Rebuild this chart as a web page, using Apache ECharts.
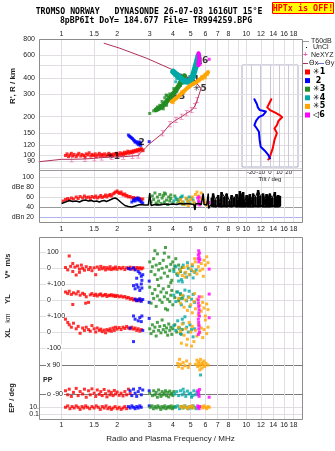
<!DOCTYPE html>
<html>
<head>
<meta charset="utf-8">
<title>Dynasonde ionogram</title>
<script src="https://cdn.jsdelivr.net/npm/echarts@6/dist/echarts.min.js"></script>
<style>html,body{margin:0;padding:0;background:#fff}#chart{width:335px;height:451px}</style>
</head>
<body>
<div id="chart"></div>
<script>
var L = Math.log10;

// ticks
var freqTicks = [1, 1.5, 2, 3, 4, 5, 6, 7, 8, 9, 10, 12, 14, 16, 18];
var freqLabels = [1, 1.5, 2, 3, 4, 5, 6, 7, 8, 10, 12, 14, 16, 18];
var freqLabelsMid = [1, 1.5, 2, 3, 4, 5, 6, 7, 8, 9, 10, 12, 14, 16, 18];
var heightTicks = [80, 90, 100, 120, 150, 200, 300, 400, 500, 600, 800];
var heightLabels = [80, 90, 100, 120, 150, 200, 300, 400, 600, 800];
var ampTicks = [20, 40, 60, 80, 100];
var ampLabels = {20: 'dBn 20', 40: '40', 60: '60', 80: 'dBe 80', 100: '100'};
var tiltTicks = [-20, -10, 0, 10, 20];

// true height profile (MHz, km)
var profBottom = [[0.755,89.5],[1.0,93.4],[1.135,93.4],[1.34,94],[1.505,95.1],[1.649,96.3],[1.867,97.4],[2.16,97.9],[2.42,99.1],[2.6,99.8],[2.66,104],[2.85,115],[3.01,124],[3.52,148.6],[3.86,174.5],[4.16,188.4],[4.46,200],[4.75,212.4],[5.06,225],[5.27,242],[5.42,269],[5.61,312],[5.68,332]];
var profTop = [[5.68,332],[5.3,370],[4.9,400],[4.28,434],[4.02,460],[2.89,567],[2.07,678],[1.70,741]];
var neMarks = [[1.135,93.4],[1.34,94],[1.505,95.1],[1.649,96.3],[1.867,97.4],[2.16,97.9],[2.42,99.1],[2.6,99.8],[3.52,148.6],[3.86,174.5],[4.16,188.4],[4.46,200],[4.75,212.4],[5.06,225],[5.27,242],[5.42,269]];

// virtual heights (MHz, km)
var redH = [[1.05,100],[1.07,103],[1.09,98],[1.11,101],[1.13,104],[1.15,99],[1.17,102],[1.2,98],[1.22,101],[1.24,104],[1.27,99],[1.29,102],[1.32,100],[1.34,97],[1.36,103],[1.39,101],[1.41,105],[1.44,99],[1.46,102],[1.49,100],[1.52,103],[1.54,98],[1.57,101],[1.6,104],[1.62,99],[1.65,102],[1.68,100],[1.71,103],[1.74,99],[1.77,101],[1.8,104],[1.83,100],[1.86,102],[1.89,99],[1.92,103],[1.95,101],[1.98,104],[2.01,100],[2.04,102],[2.07,105],[2.1,101],[2.13,104],[2.16,102],[2.19,106],[2.22,103],[2.25,105],[2.28,108],[2.31,104],[2.34,107],[2.37,105],[2.4,108],[2.43,106],[2.46,109],[2.49,107],[2.52,110],[2.55,108],[2.58,111],[2.61,109],[2.64,112],[2.67,110],[2.7,113],[2.73,111],[2.76,109]];
var blueH = [[2.3,144],[2.33,141],[2.36,139],[2.39,137],[2.42,135],[2.45,132],[2.48,130],[2.5,127],[2.53,128],[2.56,125],[2.59,123],[2.62,121],[2.65,124],[2.68,120],[2.6,127],[2.66,127],[2.98,128]];
var greenRidge = [[3.25,226],[3.45,236],[3.6,250],[3.75,268],[3.9,286],[4.1,312],[4.3,345],[4.5,385],[4.62,415]];
var greenH = [[3.0,212],[3.3,238],[3.5,262],[3.62,280],[3.72,292],[3.85,300],[3.55,230],[3.7,245],[4.0,290],[4.2,315],[4.4,350],[4.55,372],[3.4,245],[3.95,275],[3.15,222],[3.68,294],[4.05,330],[4.35,370]];
var tealRidge = [[4.02,446],[4.3,410],[4.6,378],[4.9,372],[5.1,400],[5.25,460],[5.4,530],[5.5,590]];
var tealH = [[4.1,420],[4.2,395],[4.4,385],[4.5,362],[4.7,365],[4.8,395],[5.0,385],[5.15,430],[5.3,490],[5.45,560],[4.25,430],[4.6,400],[4.4,420],[4.75,380],[4.95,410],[5.2,440],[4.15,373],[4.55,405]];
var orangeRidge = [[3.94,262],[4.2,280],[4.5,305],[4.75,330],[5.0,350],[5.3,368],[5.6,390],[5.9,412],[6.2,440]];
var orangeH = [[4.02,257],[4.35,295],[4.6,318],[4.9,345],[5.16,373],[5.49,385],[5.73,408],[5.97,421],[6.09,434],[6.22,446],[6.0,400],[5.8,392],[5.4,365],[4.46,312],[5.55,378],[6.15,425]];
var magentaRidge = [[5.5,500],[5.55,560],[5.52,620]];
var magentaH = [[5.49,620],[5.57,600],[5.5,580],[5.6,540],[5.53,505],[5.62,510],[6.29,557]];
var markPts = [[1.90,97.4,'✳1'],[2.71,125.7,'2'],[4.28,285.7,'✳3'],[5.09,390,'✳4'],[5.61,332,'✳5'],[5.73,540,'◁6']];

// tilt profiles (deg, km)
var tiltX = [[1.4,273],[-3,236],[-4.4,228],[0,225],[5.6,215],[10.3,206],[13,198],[9.2,186],[7.4,172],[4.8,162],[7.4,149],[4.8,132],[3,114],[1.1,104],[-0.8,95],[-1.9,93]];
var tiltY = [[-16.7,273],[-14.1,251],[-13,236],[-11.1,225],[-4.4,219],[-7.4,206],[-11.9,198],[-14.8,186],[-16.7,172],[-14.1,162],[-11.9,153],[-11.1,132],[-10,117],[-5.6,109],[-1.9,101],[0,95]];

// amplitudes (MHz, dB)
var blackAmp = [[1.0,47],[1.05,50],[1.1,53],[1.15,51],[1.2,52],[1.25,50],[1.3,53],[1.35,54],[1.4,52],[1.45,53],[1.5,51],[1.55,52],[1.6,50],[1.65,52],[1.7,53],[1.75,51],[1.8,53],[1.85,55],[1.9,57],[1.95,58],[2.0,56],[2.05,53],[2.1,49],[2.15,46],[2.2,43],[2.3,41],[2.4,40],[2.5,42],[2.6,44],[2.7,45],[2.8,44],[2.95,44],[3.0,68],[3.05,43],[3.2,45],[3.4,44],[3.6,46],[3.8,45],[4.0,46],[4.2,45],[4.4,47],[4.6,46],[4.8,47],[5.0,46],[5.2,45],[5.27,34],[5.32,46],[5.5,47],[5.7,45],[5.84,67],[5.9,45],[6.1,44],[6.22,67],[6.25,37],[6.4,44],[6.5,42]];
var noiseF = [6.5,6.61,6.8,7.04,7.2,7.34,7.6,7.82,8.1,8.32,8.6,8.85,9.05,9.22,9.4,9.61,9.8,10.03,10.2,10.44,10.65,10.88,11.2,11.58,11.9,12.32,12.6,12.86,13.1,13.4,13.8,14.26,14.5,14.85,15.18];
var noiseLo = [42,42,41,42,43,41,42,41,42,41,43,41,42,41,42,41,42,41,42,41,43,41,42,41,42,41,43,41,42,41,42,41,42,41,42];
var noiseHi = [58,67,55,64,48,70,60,67,52,64,58,66,55,72,65,70,50,64,58,66,55,67,60,74,62,67,56,66,60,67,58,70,60,64,62];
var redAmp = [[1.02,52],[1.05,55],[1.08,57],[1.1,54],[1.13,58],[1.16,56],[1.2,60],[1.23,57],[1.26,61],[1.3,58],[1.33,62],[1.36,59],[1.4,60],[1.43,57],[1.46,61],[1.5,59],[1.53,62],[1.56,58],[1.6,60],[1.63,63],[1.66,59],[1.7,61],[1.73,64],[1.76,60],[1.8,63],[1.83,65],[1.86,62],[1.9,66],[1.93,68],[1.96,70],[2.0,72],[2.03,69],[2.06,67],[2.1,70],[2.13,66],[2.16,64],[2.2,66],[2.23,62],[2.26,63],[2.3,60],[2.35,61],[2.4,58],[2.45,59],[2.5,57],[2.55,58],[2.6,56],[2.65,57],[2.7,55],[2.75,56]];
var blueAmp = [[2.4,50],[2.45,53],[2.48,56],[2.5,52],[2.55,57],[2.58,54],[2.6,58],[2.63,55],[2.66,52],[2.7,50],[2.75,48]];
var greenAmp = [[3.05,50],[3.1,62],[3.15,55],[3.2,68],[3.25,48],[3.3,60],[3.35,52],[3.4,65],[3.45,47],[3.5,58],[3.55,63],[3.6,50],[3.65,66],[3.7,54],[3.75,45],[3.8,60],[3.85,52],[3.9,57],[4.0,48],[4.1,62],[4.2,55],[4.3,50],[4.4,58],[4.5,46],[3.3,45],[3.6,68],[3.9,64]];
var tealAmp = [[4.05,52],[4.15,58],[4.25,48],[4.35,55],[4.45,60],[4.55,50],[4.65,46],[4.75,56],[4.85,52],[4.95,48],[5.05,58],[5.15,54],[5.25,47],[4.5,62],[4.9,60]];
var orangeAmp = [[4.3,48],[4.4,55],[4.5,50],[4.6,45],[4.7,58],[4.8,52],[4.9,47],[5.0,55],[5.1,60],[5.2,50],[5.3,65],[5.4,70],[5.5,62],[5.6,56],[5.7,68],[5.8,60],[5.9,54],[6.0,48],[6.1,44],[4.85,43],[5.25,45]];
var magentaAmp = [[5.45,58],[5.5,52],[5.52,46],[5.55,60],[5.58,50],[5.6,44],[6.29,49]];

// V* (m/s)
var redV = [[1.05,5],[1.08,-10],[1.1,77],[1.12,12],[1.15,-20],[1.18,8],[1.2,-42],[1.22,15],[1.25,-5],[1.28,20],[1.3,0],[1.33,-12],[1.36,10],[1.4,-8],[1.43,5],[1.46,-15],[1.5,3],[1.53,-40],[1.56,8],[1.6,-6],[1.63,12],[1.66,-3],[1.7,6],[1.73,-10],[1.76,4],[1.8,-5],[1.83,10],[1.86,-8],[1.9,2],[1.93,-4],[1.96,8],[2.0,-6],[2.05,5],[2.1,-3],[2.15,6],[2.2,-8],[2.25,4],[2.3,-2],[2.35,7],[2.4,-5],[2.45,3],[2.5,-6],[2.55,5],[2.6,-2],[2.65,4],[2.7,-4],[2.75,2],[1.15,30],[1.25,-25]];
var blueV = [[2.3,0],[2.35,-5],[2.45,3],[2.5,-10],[2.55,-62],[2.6,-20],[2.65,-31],[2.7,-50],[2.72,-75],[2.75,-40],[2.98,-80]];
var greenV = [[3.0,40],[3.05,-20],[3.1,10],[3.15,60],[3.2,-40],[3.25,20],[3.3,90],[3.35,-10],[3.4,30],[3.45,-60],[3.5,0],[3.55,50],[3.6,-30],[3.65,130],[3.7,10],[3.75,-50],[3.8,70],[3.85,-15],[3.9,25],[3.95,-75],[4.0,40],[4.05,-5],[4.1,15],[4.2,-35],[4.3,20],[4.4,-20],[4.5,5],[3.3,-70],[3.6,95],[3.9,-90],[3.2,110],[4.15,60]];
var tealV = [[4.05,-20],[4.15,10],[4.25,-45],[4.35,-5],[4.45,-70],[4.55,20],[4.65,-30],[4.75,-55],[4.85,0],[4.95,-40],[5.05,-15],[5.15,-60],[5.25,-25],[5.35,-10],[4.5,-85],[4.8,35],[5.1,15],[4.3,-80]];
var orangeV = [[4.3,-30],[4.4,-10],[4.5,-45],[4.6,5],[4.7,-25],[4.8,15],[4.9,-40],[5.0,-5],[5.1,25],[5.2,-20],[5.3,40],[5.4,-35],[5.5,10],[5.6,-15],[5.7,30],[5.8,-5],[5.9,50],[6.0,20],[6.1,72],[6.2,35],[5.85,-50],[5.25,60],[4.65,-55]];
var magentaV = [[5.48,60],[5.5,85],[5.52,110],[5.55,70],[5.57,95],[5.6,55],[5.53,40],[6.29,-5]];

// YL (km)
var redYL = [[1.05,50],[1.08,40],[1.1,55],[1.13,35],[1.16,45],[1.2,38],[1.23,52],[1.26,30],[1.3,42],[1.33,35],[1.36,20],[1.4,-15],[1.43,32],[1.46,40],[1.5,28],[1.53,36],[1.56,25],[1.6,33],[1.63,38],[1.66,26],[1.7,30],[1.73,35],[1.76,22],[1.8,30],[1.83,27],[1.86,33],[1.9,25],[1.93,30],[1.96,22],[2.0,28],[2.05,20],[2.1,25],[2.15,18],[2.2,22],[2.25,12],[2.3,16],[2.35,5],[2.4,10],[2.45,0],[2.5,5],[2.55,-3],[2.6,2],[2.65,-5],[2.7,0],[1.35,-20],[1.15,-28]];
var blueYL = [[2.4,110],[2.45,90],[2.5,70],[2.55,95],[2.6,80],[2.65,60],[2.7,100],[2.72,75],[2.5,5],[2.55,-5],[2.6,0],[2.65,8],[2.7,-8],[2.75,3],[2.98,-15]];
var greenYL = [[3.0,80],[3.05,-20],[3.1,40],[3.15,10],[3.2,65],[3.25,-40],[3.3,25],[3.35,90],[3.4,0],[3.45,50],[3.5,-15],[3.55,70],[3.6,20],[3.65,-55],[3.7,45],[3.75,5],[3.8,85],[3.85,-10],[3.9,30],[3.95,60],[4.0,-30],[4.1,15],[4.2,50],[4.3,-5],[4.4,35],[4.5,10],[3.45,105],[3.75,-62]];
var tealYL = [[4.05,30],[4.15,-10],[4.25,50],[4.35,10],[4.45,-30],[4.55,25],[4.65,62],[4.75,-5],[4.85,20],[4.95,-40],[5.05,5],[5.15,35],[5.25,-15],[4.4,40],[4.9,55]];
var orangeYL = [[4.3,10],[4.4,-20],[4.5,30],[4.6,-45],[4.7,0],[4.8,-65],[4.9,15],[5.0,-30],[5.1,-80],[5.2,-10],[5.3,-55],[5.4,5],[5.5,-95],[5.6,-35],[5.7,-70],[5.8,-15],[5.9,-50],[6.0,-100],[6.1,-25],[6.2,-60],[5.75,20],[5.25,40]];
var magentaYL = [[5.5,-20],[5.52,-40],[5.55,-60],[5.53,-80],[5.57,-100],[5.5,0],[5.55,20],[6.29,37]];

// XL (km)
var redXL = [[1.05,80],[1.08,60],[1.1,45],[1.13,30],[1.16,55],[1.2,20],[1.23,35],[1.26,-8],[1.3,25],[1.33,10],[1.36,30],[1.4,15],[1.43,5],[1.46,40],[1.5,20],[1.53,0],[1.56,25],[1.6,10],[1.63,18],[1.66,2],[1.7,12],[1.73,-5],[1.76,15],[1.8,8],[1.83,20],[1.86,5],[1.9,25],[1.93,10],[1.96,30],[2.0,18],[2.05,28],[2.1,15],[2.15,30],[2.2,22],[2.25,35],[2.3,25],[2.35,20],[2.4,30],[2.45,18],[2.5,25],[2.55,10],[2.6,20],[2.65,5],[2.7,15]];
var blueXL = [[2.4,120],[2.45,100],[2.5,80],[2.55,110],[2.6,70],[2.65,90],[2.7,65],[2.72,100],[2.35,25],[2.45,-60],[2.75,10],[2.98,85]];
var greenXL = [[3.0,20],[3.05,-10],[3.1,45],[3.15,5],[3.2,30],[3.25,-25],[3.3,60],[3.35,10],[3.4,35],[3.45,-5],[3.5,75],[3.55,15],[3.6,40],[3.65,0],[3.7,25],[3.75,-20],[3.8,50],[3.85,10],[3.9,30],[3.95,-15],[4.0,20],[4.1,45],[4.2,0],[4.3,25],[4.4,-10],[4.5,15]];
var tealXL = [[4.05,40],[4.15,10],[4.25,70],[4.35,25],[4.45,-15],[4.55,55],[4.65,95],[4.75,30],[4.85,0],[4.95,45],[5.05,15],[5.15,-30],[5.25,20],[4.5,80]];
var orangeXL = [[4.3,30],[4.4,5],[4.5,50],[4.6,-20],[4.7,20],[4.8,-45],[4.9,60],[5.0,0],[5.1,35],[5.2,-60],[5.3,10],[5.4,-25],[5.5,45],[5.6,-5],[5.7,25],[5.8,-35],[5.9,15],[6.0,75],[6.1,-10],[6.2,30],[4.75,-81],[5.05,-88],[4.45,-70]];
var magentaXL = [[5.5,80],[5.52,60],[5.55,40],[5.53,20],[5.57,0],[5.5,-15],[6.29,89]];

// PP (deg)
var redPP = [[1.05,-70],[1.08,-95],[1.1,-60],[1.13,-105],[1.16,-80],[1.2,-55],[1.23,-100],[1.26,-75],[1.3,-90],[1.33,-60],[1.36,-110],[1.4,-70],[1.43,-95],[1.46,-58],[1.5,-85],[1.53,-105],[1.56,-65],[1.6,-92],[1.63,-75],[1.66,-100],[1.7,-62],[1.73,-88],[1.76,-108],[1.8,-72],[1.83,-95],[1.86,-80],[1.9,-100],[1.93,-68],[1.96,-90],[2.0,-78],[2.05,-98],[2.1,-85],[2.15,-102],[2.2,-75],[2.25,-95],[2.3,-60],[2.35,-88]];
var bluePP = [[2.35,-70],[2.4,-100],[2.45,-60],[2.5,-85],[2.55,-105],[2.6,-75],[2.65,-55],[2.7,-95],[2.75,-65],[2.98,-70]];
var greenPP = [[3.0,-85],[3.1,-100],[3.15,-70],[3.2,-95],[3.25,-80],[3.3,-110],[3.35,-65],[3.4,-90],[3.45,-105],[3.5,-75],[3.55,-95],[3.6,-85],[3.65,-70],[3.7,-100],[3.75,-80],[3.8,-108],[3.85,-72],[3.9,-92],[3.95,-85],[4.0,-100],[4.05,-75]];
var tealPP = [[4.1,-90],[4.2,-75],[4.3,-100],[4.4,-70],[4.5,-95],[4.6,-80],[4.7,-105],[4.8,-72],[4.9,-90],[5.0,-85],[5.1,-100],[5.2,-70],[5.3,-95],[5.4,-80],[4.55,-60],[5.05,-110],[5.65,28]];
var orangePP = [[4.25,100],[4.3,80],[4.35,125],[4.4,95],[4.5,70],[4.55,105],[4.65,85],[4.75,115],[4.85,75],[4.95,95],[5.3,95],[5.4,120],[5.45,80],[5.5,100],[5.55,110],[5.6,85],[5.65,125],[5.7,95],[5.75,70],[5.8,105],[5.85,90],[5.9,115],[5.95,80],[6.05,100],[6.2,90],[5.6,60]];
var magentaPP = [[5.45,-70],[5.5,-95],[5.52,-80],[5.55,-105],[5.58,-62],[6.29,-110]];

// EP (deg)
var redEP = [[1.05,10],[1.08,12],[1.11,8],[1.14,11],[1.17,9],[1.2,12],[1.23,10],[1.26,7],[1.29,11],[1.32,9],[1.35,12],[1.38,10],[1.42,8],[1.46,11],[1.5,9],[1.54,12],[1.58,10],[1.62,7],[1.66,11],[1.7,9],[1.74,12],[1.78,8],[1.82,10],[1.86,7],[1.9,9],[1.95,11],[2.0,8],[2.05,10],[2.1,7],[2.15,9],[2.2,11],[2.25,8]];
var blueEP = [[2.3,11],[2.35,9],[2.4,12],[2.45,10],[2.5,8],[2.55,11],[2.6,9],[2.65,12],[2.7,10],[2.98,12]];
var greenEP = [[3.02,10],[3.08,12],[3.14,8],[3.2,11],[3.26,9],[3.32,12],[3.38,10],[3.44,7],[3.5,11],[3.56,9],[3.62,12],[3.68,8],[3.74,10],[3.8,11],[3.86,9],[3.92,12],[3.98,8],[4.04,10],[4.1,11]];
var tealEP = [[4.15,10],[4.25,12],[4.35,8],[4.45,11],[4.55,9],[4.65,12],[4.75,10],[4.85,8],[4.95,11],[5.05,9],[5.15,12],[5.25,10],[5.35,8]];
var orangeEP = [[4.4,11],[4.5,9],[4.6,12],[4.7,10],[4.8,8],[4.9,11],[5.0,10],[5.1,12],[5.2,9],[5.7,11],[5.8,9],[5.9,12],[6.0,10],[6.1,8],[6.2,11],[6.3,10]];
var magentaEP = [[5.45,12],[5.5,10],[5.55,8],[5.58,11]];

var RED = '#ff0000', BLUE = '#0000ff', GREEN = '#228b22', TEAL = '#00a8a8', ORANGE = '#ffa500', MAGENTA = '#ff00ff';
var PROF = '#b0305a', GRID = '#e2dde2';

var chart = echarts.init(document.getElementById('chart'));

function fLab(v) { return String(Math.round(Math.pow(10, v) * 10) / 10); }
function logF(arr) { return arr.map(function(p) { return [L(p[0]), p[1]]; }); }
function logFH(arr) { return arr.map(function(p) { return [L(p[0]), L(p[1])]; }); }
function logH(arr) { return arr.map(function(p) { return [p[0], L(p[1])]; }); }

function dots(gi, color, data, size, noClip) {
	return {
		type: 'scatter', xAxisIndex: gi, yAxisIndex: gi, data: data,
		symbol: 'rect', symbolSize: size || 3, itemStyle: {color: color},
		clip: !noClip, silent: true
	};
}
function ridge(gi, color, data, w) {
	return {
		type: 'line', xAxisIndex: gi, yAxisIndex: gi, data: data, symbol: 'none',
		lineStyle: {color: color, width: w, join: 'round', cap: 'round'}, silent: true
	};
}

var labStyle = {fontSize: 7, color: '#222', fontFamily: 'Liberation Sans'};

function freqAxis(gi, labels, extra) {
	var a = {
		type: 'value', gridIndex: gi, min: L(0.755), max: L(20),
		axisLine: {show: false},
		axisTick: {show: false, customValues: freqTicks.map(L)},
		splitLine: {show: true, lineStyle: {color: GRID, width: 1}},
		axisLabel: {show: false}
	};
	if (labels) {
		a.axisLabel = Object.assign({show: true, margin: 3, customValues: labels.map(L), formatter: fLab}, labStyle);
	}
	return Object.assign(a, extra || {});
}

function mapLabel(map) {
	return function(v) { return map[v] !== undefined ? map[v] : ''; };
}
function rowAxis(gi, min, max, ticks, map, inside, lineColor) {
	return {
		type: 'value', gridIndex: gi, min: min, max: max,
		axisLine: {show: false},
		axisTick: {show: false, customValues: ticks},
		splitLine: {show: true, lineStyle: {color: lineColor || GRID}},
		axisLabel: Object.assign({
			show: true, customValues: ticks, formatter: mapLabel(map),
			inside: !!inside, margin: inside ? 7 : 4,
			backgroundColor: inside ? '#fff' : 'transparent', padding: inside ? [0, 1] : 0
		}, labStyle)
	};
}

var grids = [
	{left: 39, top: 39, width: 263, height: 131},
	{left: 39, top: 170, width: 263, height: 52},
	{left: 242, top: 65, width: 56, height: 102, show: true, borderColor: '#a9a9c6', borderWidth: 1},
	{left: 39, top: 237, width: 263, height: 47},
	{left: 39, top: 284, width: 263, height: 32},
	{left: 39, top: 316, width: 263, height: 49},
	{left: 39, top: 365, width: 263, height: 29},
	{left: 39, top: 394, width: 263, height: 25.3}
];
grids.forEach(function(g) { g.outerBoundsMode = 'none'; g.containLabel = false; });

var xAxes = [
	freqAxis(0, freqLabels, {position: 'top'}),
	freqAxis(1, freqLabelsMid),
	{
		type: 'value', gridIndex: 2, min: -30, max: 30,
		axisLine: {show: false}, axisTick: {show: false, customValues: tiltTicks},
		splitLine: {show: true, lineStyle: {color: '#c9c9d9'}},
		axisLabel: {show: true, customValues: tiltTicks, fontSize: 6, margin: 2, color: '#222', fontFamily: 'Liberation Sans'},
		name: 'Tilt / deg', nameLocation: 'middle', nameGap: 9, nameMoveOverlap: false,
		nameTextStyle: {fontSize: 6, color: '#222', fontFamily: 'Liberation Sans'}
	},
	freqAxis(3), freqAxis(4), freqAxis(5), freqAxis(6),
	freqAxis(7, freqLabels, {
		name: 'Radio and Plasma Frequency / MHz', nameLocation: 'middle', nameGap: 15, nameMoveOverlap: false,
		nameTextStyle: {fontSize: 8, color: '#222', fontFamily: 'Liberation Sans'}
	})
];
xAxes[0].axisLabel.margin = 1;
xAxes[1].axisLabel.margin = 4;
xAxes[7].axisLabel.margin = 2;

var yAxes = [
	{
		type: 'value', gridIndex: 0, min: L(800) - 131 / 129, max: L(800),
		axisLine: {show: false},
		axisTick: {show: false, customValues: heightTicks.map(L)},
		splitLine: {show: true, lineStyle: {color: GRID}},
		axisLabel: Object.assign({show: true, margin: 4, customValues: heightLabels.map(L),
			formatter: function(v) { return String(Math.round(Math.pow(10, v))); }}, labStyle)
	},
	{
		type: 'value', gridIndex: 1, min: 10, max: 114,
		axisLine: {show: false},
		axisTick: {show: false, customValues: ampTicks},
		splitLine: {show: true, lineStyle: {color: ['#aeb2ee', '#9a9a9a', '#dcdcdc', '#dcdcdc', '#dcdcdc']}},
		axisLabel: Object.assign({show: true, margin: 5, customValues: ampTicks, formatter: mapLabel(ampLabels)}, labStyle)
	},
	{
		// tilt inset shares the height scale of the panel behind it
		type: 'value', gridIndex: 2, min: L(800) - 128 / 129, max: L(800) - 26 / 129,
		show: false
	},
	rowAxis(3, -98.1, 195.6, [0, 100], {0: '0', 100: '100'}, true),
	rowAxis(4, -100, 100, [0, 100], {0: '0', 100: '+-100'}, true),
	rowAxis(5, -206.25, 100, [-100, 0, 100], {'-100': '-100', 0: '0', 100: '+-100'}, true),
	rowAxis(6, -90, 90, [-90, 90], {'-90': 'o -90', 90: 'x 90'}, true, '#7a7a7a'),
	rowAxis(7, -6.94, 28.73, [0.1, 10], {0.1: '0.1', 10: '10.'}, false)
];
yAxes[7].axisLabel.margin = 0;

var iPath = 'path://M0,0h5v1h-2v6h2v1h-5v-1h2v-6h-2z';

var series = [
	// virtual / true height panel
	ridge(0, PROF, logFH(profBottom), 1),
	ridge(0, PROF, logFH(profTop), 1),
	{type: 'scatter', xAxisIndex: 0, yAxisIndex: 0, data: logFH(neMarks), symbol: iPath, symbolSize: [4, 6],
		itemStyle: {color: '#f060a8'}, silent: true},
	dots(0, RED, logFH(redH)),
	dots(0, BLUE, logFH(blueH)),
	ridge(0, GREEN, logFH(greenRidge), 5),
	dots(0, GREEN, logFH(greenH)),
	ridge(0, TEAL, logFH(tealRidge), 6),
	dots(0, TEAL, logFH(tealH)),
	ridge(0, ORANGE, logFH(orangeRidge), 4),
	dots(0, ORANGE, logFH(orangeH)),
	ridge(0, MAGENTA, logFH(magentaRidge), 4),
	dots(0, MAGENTA, logFH(magentaH)),
	{
		type: 'scatter', xAxisIndex: 0, yAxisIndex: 0, symbolSize: 1, itemStyle: {color: 'transparent'},
		data: markPts.map(function(p) { return {value: [L(p[0]), L(p[1])], name: p[2]}; }),
		label: {show: true, position: 'inside', formatter: '{b}', color: '#000', fontSize: 9, fontWeight: 'bold', fontFamily: 'DejaVu Sans'},
		silent: true
	},
	// tilt inset
	ridge(2, RED, logH(tiltX), 2),
	ridge(2, BLUE, logH(tiltY), 2),
	// amplitude panel
	{type: 'line', xAxisIndex: 1, yAxisIndex: 1, data: logF(blackAmp), symbol: 'none',
		lineStyle: {color: '#000', width: 1.5}, silent: true},
	{
		// noise columns: a bar from low to high level at each sounding frequency
		type: 'custom', xAxisIndex: 1, yAxisIndex: 1, silent: true,
		data: noiseF.map(function(f, i) { return [L(f), noiseLo[i], noiseHi[i]]; }),
		encode: {x: 0, y: [1, 2]},
		renderItem: function(params, api) {
			var a = api.coord([api.value(0), api.value(1)]);
			var b = api.coord([api.value(0), api.value(2)]);
			return {type: 'line', shape: {x1: a[0], y1: a[1], x2: b[0], y2: b[1]}, style: {stroke: '#000', lineWidth: 2.6}};
		}
	},
	ridge(1, '#000', noiseF.map(function(f, i) { return [L(f), noiseHi[i]]; }), 1),
	ridge(1, '#000', noiseF.map(function(f, i) { return [L(f), noiseLo[i]]; }), 2),
	dots(1, RED, logF(redAmp)),
	dots(1, BLUE, logF(blueAmp)),
	dots(1, GREEN, logF(greenAmp)),
	dots(1, TEAL, logF(tealAmp)),
	dots(1, ORANGE, logF(orangeAmp)),
	dots(1, MAGENTA, logF(magentaAmp))
];

// lower panel rows
var rows = [
	[3, redV, blueV, greenV, tealV, orangeV, magentaV],
	[4, redYL, blueYL, greenYL, tealYL, orangeYL, magentaYL],
	[5, redXL, blueXL, greenXL, tealXL, orangeXL, magentaXL],
	[6, redPP, bluePP, greenPP, tealPP, orangePP, magentaPP],
	[7, redEP, blueEP, greenEP, tealEP, orangeEP, magentaEP]
];
var cols = [RED, BLUE, GREEN, TEAL, ORANGE, MAGENTA];
rows.forEach(function(r) {
	for (var k = 0; k < 6; k++) {
		series.push(dots(r[0], cols[k], logF(r[k + 1]), 3, r[0] === 6));
	}
});

// legend and frame drawing
var legendNames = ['✳1', ' 2', '✳3', '✳4', '✳5', '◁6'];
var graphics = [
	{type: 'text', x: 149, y: 12, style: {text: 'TROMSO NORWAY   DYNASONDE 26-07-03 1616UT 15°E', font: 'bold 8.2px "DejaVu Sans Mono"', fill: '#000', textAlign: 'center', textVerticalAlign: 'middle'}},
	{type: 'text', x: 156, y: 20.5, style: {text: '8pBP6It DoY= 184.677 File= TR994259.BPG', font: 'bold 8.2px "DejaVu Sans Mono"', fill: '#000', textAlign: 'center', textVerticalAlign: 'middle'}},
	{type: 'rect', shape: {x: 272.5, y: 2.5, width: 61, height: 11}, style: {fill: '#ffff00', stroke: '#ff0000', lineWidth: 1}},
	{type: 'text', x: 303, y: 8.5, style: {text: 'HPTx is OFF!', font: 'bold 8.4px "DejaVu Sans Mono"', fill: '#ff0000', textAlign: 'center', textVerticalAlign: 'middle'}},
	{type: 'rect', shape: {x: 39.5, y: 39.5, width: 263, height: 183}, style: {fill: 'none', stroke: '#8c8c8c', lineWidth: 1}, z: 50},
	{type: 'line', shape: {x1: 39.5, y1: 170.5, x2: 302.5, y2: 170.5}, style: {stroke: '#9a9a9a', lineWidth: 1}, z: 50},
	{type: 'rect', shape: {x: 39.5, y: 237.5, width: 263, height: 182}, style: {fill: 'none', stroke: '#8c8c8c', lineWidth: 1}, z: 50},
	{type: 'text', x: 13, y: 86, rotation: Math.PI / 2, style: {text: "R', R / km", font: 'bold 8px "Liberation Sans"', fill: '#222', textAlign: 'center', textVerticalAlign: 'middle'}},
	{type: 'text', x: 8, y: 266, rotation: Math.PI / 2, style: {text: 'V*  m/s', font: 'bold 7.5px "Liberation Sans"', fill: '#222', textAlign: 'center', textVerticalAlign: 'middle'}},
	{type: 'text', x: 8, y: 299, rotation: Math.PI / 2, style: {text: 'YL', font: 'bold 7.5px "Liberation Sans"', fill: '#222', textAlign: 'center', textVerticalAlign: 'middle'}},
	{type: 'text', x: 8, y: 318, rotation: Math.PI / 2, style: {text: 'km', font: '7px "Liberation Sans"', fill: '#222', textAlign: 'center', textVerticalAlign: 'middle'}},
	{type: 'text', x: 8, y: 333, rotation: Math.PI / 2, style: {text: 'XL', font: 'bold 7.5px "Liberation Sans"', fill: '#222', textAlign: 'center', textVerticalAlign: 'middle'}},
	{type: 'text', x: 12, y: 398, rotation: Math.PI / 2, style: {text: 'EP / deg', font: 'bold 7.5px "Liberation Sans"', fill: '#222', textAlign: 'center', textVerticalAlign: 'middle'}},
	{type: 'text', x: 43, y: 380, style: {text: 'PP', font: 'bold 7px "Liberation Sans"', fill: '#222', textVerticalAlign: 'middle'}},
	{type: 'line', shape: {x1: 303, y1: 41.5, x2: 309, y2: 41.5}, style: {stroke: '#999', lineWidth: 1}},
	{type: 'text', x: 311, y: 41.5, style: {text: 'T60dB', font: '7px "Liberation Sans"', fill: '#222', textVerticalAlign: 'middle'}},
	{type: 'rect', shape: {x: 306, y: 47, width: 1, height: 1}, style: {fill: '#000'}},
	{type: 'text', x: 313, y: 47.5, style: {text: 'UnCl', font: '7px "Liberation Sans"', fill: '#222', textVerticalAlign: 'middle'}},
	{type: 'text', x: 303, y: 55, style: {text: '+', font: 'bold 8px "Liberation Sans"', fill: '#f060a8', textVerticalAlign: 'middle'}},
	{type: 'text', x: 311, y: 55, style: {text: 'NeXYZ', font: '7px "Liberation Sans"', fill: '#222', textVerticalAlign: 'middle'}},
	{type: 'line', shape: {x1: 302, y1: 63.5, x2: 308, y2: 63.5}, style: {stroke: PROF, lineWidth: 1}},
	{type: 'text', x: 309, y: 63.5, style: {text: 'Θx', font: '7px "DejaVu Sans"', fill: '#222', textVerticalAlign: 'middle'}},
	{type: 'line', shape: {x1: 318, y1: 63.5, x2: 324, y2: 63.5}, style: {stroke: '#7070d0', lineWidth: 1}},
	{type: 'text', x: 325, y: 63.5, style: {text: 'Θy', font: '7px "DejaVu Sans"', fill: '#222', textVerticalAlign: 'middle'}}
];
legendNames.forEach(function(n, i) {
	var y = 72 + i * 8.6;
	graphics.push({type: 'rect', shape: {x: 305, y: y - 2.5, width: 5, height: 5}, style: {fill: cols[i]}});
	graphics.push({type: 'text', x: 313, y: y, style: {text: n, font: 'bold 8px "DejaVu Sans"', fill: '#000', textVerticalAlign: 'middle'}});
});

var option = {
	backgroundColor: '#fff',
	animation: false,
	textStyle: {fontFamily: 'Liberation Sans'},
	grid: grids,
	xAxis: xAxes,
	yAxis: yAxes,
	series: series,
	graphic: graphics
};
chart.setOption(option);
</script>
</body>
</html>
